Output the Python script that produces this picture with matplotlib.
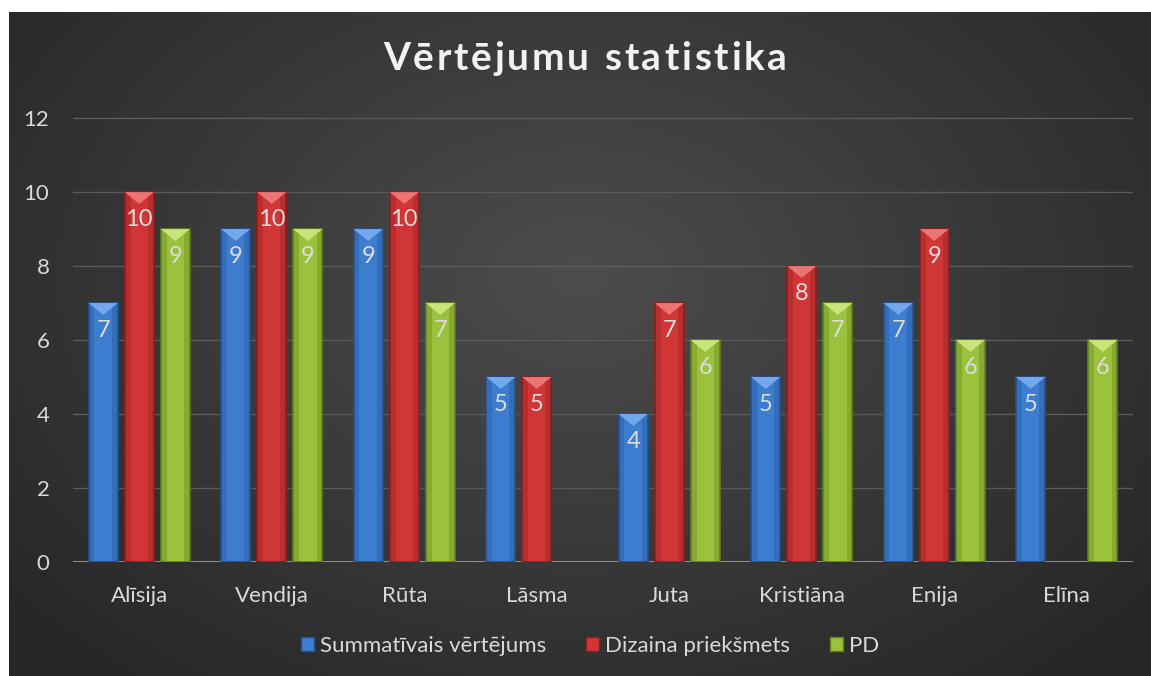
import numpy as np
import matplotlib
matplotlib.use("Agg")
import matplotlib.pyplot as plt
from matplotlib.patches import Polygon, Patch

plt.rcParams['font.family'] = ['Lato', 'DejaVu Sans']

# data
names = ['Alīsija', 'Vendija', 'Rūta', 'Lāsma', 'Juta', 'Kristiāna', 'Enija', 'Elīna']
summativais = [7, 9, 9, 5, 4, 5, 7, 5]
dizaina = [10, 10, 10, 5, 7, 8, 9, np.nan]
pd_vals = [9, 9, 7, np.nan, 6, 7, 6, 6]
series_names = ['Summatīvais vērtējums', 'Dizaina priekšmets', 'PD']
yticks = [0, 2, 4, 6, 8, 10, 12]
title = 'Vērtējumu statistika'

base_cols = ['#3d7dd0', '#d03636', '#9bc23c']
edge_cols = ['#24508f', '#8c1e1e', '#62801f']
top_cols = ['#74a8ec', '#ec7474', '#c8e47a']

W, H = 1151, 676
fig = plt.figure(figsize=(W / 100, H / 100), dpi=100)
fig.patch.set_facecolor('white')

# dark background with soft radial gradient
bg = fig.add_axes([9 / W, 0, (W - 9) / W, (H - 12) / H])
yy, xx = np.mgrid[0:1:300j, 0:1:500j]
r = np.sqrt(((xx - 0.5) / 0.75) ** 2 + ((yy - 0.4) / 0.9) ** 2)
shade = np.clip(0.30 - 0.17 * r, 0.15, 0.30)
bg.imshow(np.dstack([shade] * 3), aspect='auto', extent=[0, 1, 0, 1], origin='upper')
bg.set_axis_off()

ax = fig.add_axes([73 / W, 114 / H, 1060 / W, 445 / H])
ax.set_facecolor('none')
ax.set_xlim(-0.5, len(names) - 0.5)
ax.set_ylim(0, 12.03)

x = np.arange(len(names))
bw = 0.22
step = 0.272
bevel = 0.32
for k, vals in enumerate([summativais, dizaina, pd_vals]):
    xs = x + (k - 1) * step
    ax.bar(xs, vals, width=bw, color=base_cols[k], edgecolor=edge_cols[k],
           linewidth=1.2, zorder=3)
    for xi, v in zip(xs, vals):
        if np.isnan(v):
            continue
        # side shading strips
        ax.bar(xi - bw * 0.4, v, width=bw * 0.2, color=edge_cols[k], alpha=0.35,
               linewidth=0, zorder=3.5)
        ax.bar(xi + bw * 0.4, v, width=bw * 0.2, color=edge_cols[k], alpha=0.35,
               linewidth=0, zorder=3.5)
        # bevel at the top
        tri = Polygon([(xi - bw / 2, v), (xi + bw / 2, v), (xi, v - bevel)],
                      closed=True, facecolor=top_cols[k], edgecolor='none', zorder=4)
        ax.add_patch(tri)
        ax.text(xi, v - 0.75, f'{int(v)}', ha='center', va='center',
                color='#dcdcdc', fontsize=17, zorder=5)

ax.set_yticks(yticks)
ax.set_xticks(x)
ax.set_xticklabels(names)
ax.grid(axis='y', color='#5a5a5a', linewidth=1, zorder=0)
ax.set_axisbelow(True)
for s in ax.spines.values():
    s.set_visible(False)
ax.axhline(0, color='#9a9a9a', linewidth=2, zorder=2)
ax.tick_params(length=0, colors='#d9d9d9', labelsize=16)
ax.tick_params(axis='y', pad=17)
ax.tick_params(axis='x', pad=17)

# title with letter spacing (drawn char by char)
renderer = fig.canvas.get_renderer()
tkw = dict(fontsize=28, fontweight='bold', color='#f2f2f2')
def text_w(s):
    if not s:
        return 0.0
    t = fig.text(0, 0, s.replace(' ', '\u00a0'), **tkw)
    w = t.get_window_extent(renderer).width
    t.remove()
    return w
full_w = text_w(title)
target_w = 404
spacing = (target_w - full_w) / (len(title) - 1)
left = 585 - target_w / 2
for i, ch in enumerate(title):
    if ch == ' ':
        continue
    px = left + text_w(title[:i]) + i * spacing
    fig.text(px / W, 1 - 58 / H, ch, ha='left', va='center', **tkw)

handles = [Patch(facecolor=base_cols[k], edgecolor=edge_cols[k]) for k in range(3)]
fig.legend(handles, series_names, loc='center', bbox_to_anchor=(590 / W, 1 - 646 / H),
           ncol=3, frameon=False, fontsize=16, labelcolor='#d9d9d9',
           handlelength=0.6, handleheight=0.6, handletextpad=0.25, columnspacing=1.8)

fig.savefig('out.png', dpi=100)
